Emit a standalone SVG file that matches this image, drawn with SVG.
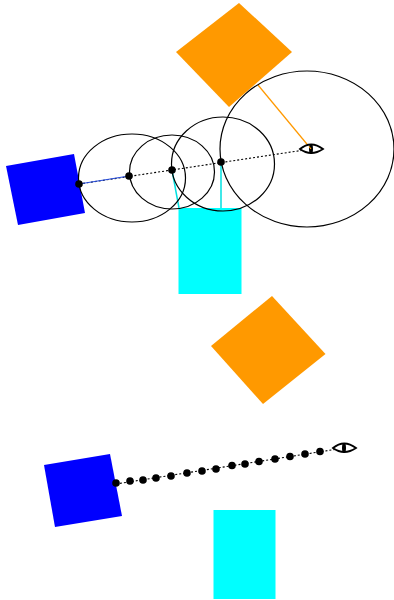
<svg xmlns="http://www.w3.org/2000/svg" width="394" height="600" viewBox="0 0 394 600">
<style>
.o{fill:#ff9900}.b{fill:#0000ff}.c{fill:#00ffff}
.circ{fill:none;stroke:#000;stroke-width:1.2}
.sight{fill:none;stroke:#000;stroke-width:1.1;stroke-dasharray:2 2}
.d{fill:#000}
.eye{fill:#fff;stroke:#000;stroke-width:1.8}
</style>
<g id="orange-top"><polygon class="o" points="239,3 292,52 229,107 176,52"/></g>
<g id="blue-top"><polygon class="b" points="6,166 74,154 85,213 18,225"/></g>
<g id="cyan-top"><rect class="c" x="178.500" y="208" width="63" height="86"/></g>
<g id="orange-bottom"><polygon class="o" points="272,296 325.500,354 263,404 211,346"/></g>
<g id="blue-bottom"><polygon class="b" points="44,465 110,454 122,516 55,527"/></g>
<g id="cyan-bottom"><rect class="c" x="213.500" y="510" width="62" height="89"/></g>
<g id="connectors">
<line class="sight" x1="79" y1="184" x2="311" y2="149"/>
<line x1="79" y1="184" x2="129" y2="176" stroke="#2a50e0" stroke-width="1.2"/>
<line x1="172" y1="170" x2="179" y2="208" stroke="#00e0e0" stroke-width="1.5"/>
<line x1="221" y1="162" x2="221" y2="208" stroke="#00e0e0" stroke-width="1.5"/>
<line x1="258" y1="85" x2="311" y2="149" stroke="#ff9900" stroke-width="1.2"/>
<line class="sight" x1="116" y1="484" x2="344" y2="448"/>
</g>
<g id="circles">
<ellipse class="circ" cx="132" cy="178" rx="53.500" ry="44"/>
<ellipse class="circ" cx="172" cy="172" rx="42.500" ry="37"/>
<ellipse class="circ" cx="223" cy="164" rx="51.500" ry="47"/>
<ellipse class="circ" cx="307" cy="149" rx="87" ry="78"/>
</g>
<g id="points-top">
<circle class="d" cx="79" cy="184" r="3.800"/><circle class="d" cx="129" cy="176" r="3.800"/><circle class="d" cx="172" cy="170" r="3.800"/><circle class="d" cx="221" cy="162" r="3.800"/>
</g>
<g id="points-bottom">
<circle class="d" cx="116" cy="483" r="3.800"/><circle class="d" cx="130" cy="481" r="3.800"/><circle class="d" cx="143" cy="480" r="3.800"/><circle class="d" cx="156" cy="478" r="3.800"/><circle class="d" cx="171" cy="476" r="3.800"/><circle class="d" cx="187" cy="473" r="3.800"/><circle class="d" cx="202" cy="471" r="3.800"/><circle class="d" cx="216" cy="469" r="3.800"/><circle class="d" cx="232" cy="465.500" r="3.800"/><circle class="d" cx="245" cy="464" r="3.800"/><circle class="d" cx="259" cy="461.500" r="3.800"/><circle class="d" cx="275" cy="459" r="3.800"/><circle class="d" cx="290" cy="456.500" r="3.800"/><circle class="d" cx="305" cy="454" r="3.800"/><circle class="d" cx="320" cy="451.500" r="3.800"/>
</g>
<g id="eye-top"><path class="eye" d="M300,149 Q311,140 323,149 Q311,157 300,149Z"/><ellipse class="d" cx="311" cy="149" rx="2" ry="5"/><line x1="309" y1="146.500" x2="311" y2="149" stroke="#ff9900" stroke-width="1.2"/></g>
<g id="eye-bottom"><path class="eye" d="M333,448 Q344,439 356,448 Q344,456 333,448Z"/><ellipse class="d" cx="344" cy="448" rx="2" ry="5"/></g>
</svg>
